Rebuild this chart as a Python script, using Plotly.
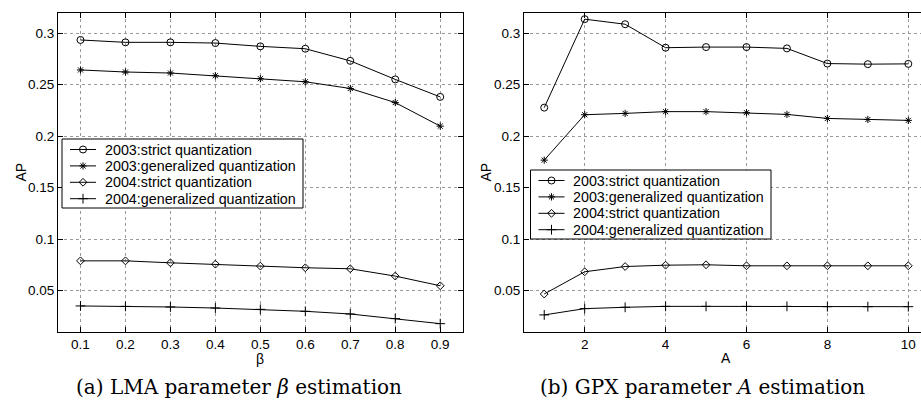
import plotly.graph_objects as go

# ---- data -------------------------------------------------------------
beta = [0.1, 0.2, 0.3, 0.4, 0.5, 0.6, 0.7, 0.8, 0.9]
lma_2003_strict = [0.2935, 0.2912, 0.2912, 0.2905, 0.2873, 0.2850, 0.2732, 0.2552, 0.2382]
lma_2003_general = [0.2644, 0.2624, 0.2614, 0.2588, 0.2559, 0.2529, 0.2464, 0.2327, 0.2098]
lma_2004_strict = [0.0790, 0.0790, 0.0771, 0.0758, 0.0739, 0.0723, 0.0713, 0.0642, 0.0548]
lma_2004_general = [0.0352, 0.0348, 0.0342, 0.0332, 0.0319, 0.0300, 0.0274, 0.0229, 0.0180]

a_vals = [1, 2, 3, 4, 5, 6, 7, 8, 9, 10]
gpx_2003_strict = [0.2278, 0.3137, 0.3088, 0.2860, 0.2866, 0.2866, 0.2853, 0.2706, 0.2700, 0.2703]
gpx_2003_general = [0.1768, 0.2209, 0.2222, 0.2239, 0.2239, 0.2229, 0.2212, 0.2173, 0.2163, 0.2154]
gpx_2004_strict = [0.0468, 0.0684, 0.0735, 0.0748, 0.0752, 0.0742, 0.0742, 0.0742, 0.0742, 0.0742]
gpx_2004_general = [0.0265, 0.0326, 0.0339, 0.0348, 0.0348, 0.0348, 0.0348, 0.0345, 0.0345, 0.0345]

series_names = [
    "2003:strict quantization",
    "2003:generalized quantization",
    "2004:strict quantization",
    "2004:generalized quantization",
]

y_ticks = [0.05, 0.1, 0.15, 0.2, 0.25, 0.3]
y_ticktext = ["0.05", "0.1", "0.15", "0.2", "0.25", "0.3"]
beta_ticks = [0.1, 0.2, 0.3, 0.4, 0.5, 0.6, 0.7, 0.8, 0.9]
a_ticks = [2, 4, 6, 8, 10]

# ---- styling ----------------------------------------------------------
W, H = 921, 403
SANS = "Liberation Sans, Arial, Helvetica, sans-serif"
SERIF = "DejaVu Serif, Liberation Serif, serif"
markers = [
    dict(symbol="circle-open", size=7),
    dict(symbol="asterisk-open", size=6),
    dict(symbol="diamond-open", size=6),
    dict(symbol="cross-thin-open", size=7),
]


def marker_style(mk):
    return dict(symbol=mk["symbol"], size=mk["size"], color="black",
                line=dict(color="black", width=1))


fig = go.Figure()

left_series = [lma_2003_strict, lma_2003_general, lma_2004_strict, lma_2004_general]
right_series = [gpx_2003_strict, gpx_2003_general, gpx_2004_strict, gpx_2004_general]

for name, ys, mk in zip(series_names, left_series, markers):
    fig.add_trace(go.Scatter(
        x=beta, y=ys, name=name, mode="lines+markers",
        line=dict(color="black", width=1), marker=marker_style(mk),
        xaxis="x", yaxis="y", showlegend=False,
    ))

for name, ys, mk in zip(series_names, right_series, markers):
    fig.add_trace(go.Scatter(
        x=a_vals, y=ys, name=name, mode="lines+markers",
        line=dict(color="black", width=1), marker=marker_style(mk),
        xaxis="x2", yaxis="y2", showlegend=False,
    ))

# ---- hand-drawn legends on a pixel-space overlay (x3/y3) ---------------
legend_boxes = [  # left, top, right, bottom in pixels
    (62, 139, 303, 208),
    (530.5, 170, 771, 239),
]
annotations = []
for (bx0, by0, bx1, by1) in legend_boxes:
    fig.add_trace(go.Scatter(
        x=[bx0, bx1, bx1, bx0, bx0], y=[by0, by0, by1, by1, by0],
        mode="lines", fill="toself", fillcolor="white",
        line=dict(color="black", width=1),
        xaxis="x3", yaxis="y3", showlegend=False, hoverinfo="skip",
    ))
    for i, (name, mk) in enumerate(zip(series_names, markers)):
        ry = by0 + 10.5 + 16.4 * i
        fig.add_trace(go.Scatter(
            x=[bx0 + 8, bx0 + 34], y=[ry, ry], mode="lines",
            line=dict(color="black", width=1),
            xaxis="x3", yaxis="y3", showlegend=False, hoverinfo="skip",
        ))
        fig.add_trace(go.Scatter(
            x=[bx0 + 21], y=[ry], mode="markers", marker=marker_style(mk),
            xaxis="x3", yaxis="y3", showlegend=False, hoverinfo="skip",
        ))
        annotations.append(dict(text=name, x=(bx0 + 40.5) / W, y=1 - ry / H,
                                xanchor="left", size=14.3, family=SANS, angle=0))

y_dom = [1 - 331.7 / H, 1 - 13.3 / H]

axis_common = dict(
    showline=True, linecolor="black", linewidth=1.2,
    ticks="inside", ticklen=5, tickcolor="black", tickwidth=1,
    showgrid=True, gridcolor="#9a9a9a", griddash="dot", gridwidth=1,
    zeroline=False,
    tickfont=dict(family=SANS, size=13.5, color="black"),
)

fig.update_layout(
    width=W, height=H,
    margin=dict(l=0, r=0, t=0, b=0),
    paper_bgcolor="white", plot_bgcolor="rgba(0,0,0,0)",
    showlegend=False,
    xaxis=dict(domain=[58 / W, 462.7 / W], range=[0.05, 0.95],
               tickvals=beta_ticks, ticktext=[str(v) for v in beta_ticks],
               mirror="ticks", anchor="y", **axis_common),
    yaxis=dict(domain=y_dom, range=[0.0102, 0.3194],
               tickvals=y_ticks, ticktext=y_ticktext,
               mirror="ticks", anchor="x", **axis_common),
    xaxis2=dict(domain=[524 / W, 1.0], range=[0.5, 10.314],
                tickvals=a_ticks, ticktext=[str(v) for v in a_ticks],
                mirror="ticks", anchor="y2", **axis_common),
    yaxis2=dict(domain=y_dom, range=[0.0102, 0.3194],
                tickvals=y_ticks, ticktext=y_ticktext,
                mirror=False, anchor="x2", **axis_common),
    xaxis3=dict(domain=[0, 1], range=[0, W], visible=False, fixedrange=True,
                anchor="y3"),
    yaxis3=dict(domain=[0, 1], range=[H, 0], visible=False, fixedrange=True,
                anchor="x3"),
)

# axis titles and sub-figure captions
annotations += [
    dict(text="β", x=260 / W, y=1 - 359 / H, size=14, family=SANS, angle=0),
    dict(text="A", x=725.7 / W, y=1 - 358 / H, size=14, family=SANS, angle=0),
    dict(text="AP", x=20 / W, y=1 - 172.5 / H, size=14, family=SANS, angle=-90),
    dict(text="AP", x=485 / W, y=1 - 172.5 / H, size=14, family=SANS, angle=-90),
    dict(text="(a) LMA parameter <i>β</i> estimation", x=238.5 / W, y=1 - 387 / H,
         size=20, family=SERIF, angle=0),
    dict(text="(b) GPX parameter <i>A</i> estimation", x=702.5 / W, y=1 - 387 / H,
         size=20, family=SERIF, angle=0),
]
for a in annotations:
    fig.add_annotation(text=a["text"], xref="paper", yref="paper",
                       x=a["x"], y=a["y"], xanchor=a.get("xanchor", "center"),
                       yanchor="middle", showarrow=False, textangle=a["angle"],
                       font=dict(family=a["family"], size=a["size"], color="black"))

fig.write_html("out.html")
